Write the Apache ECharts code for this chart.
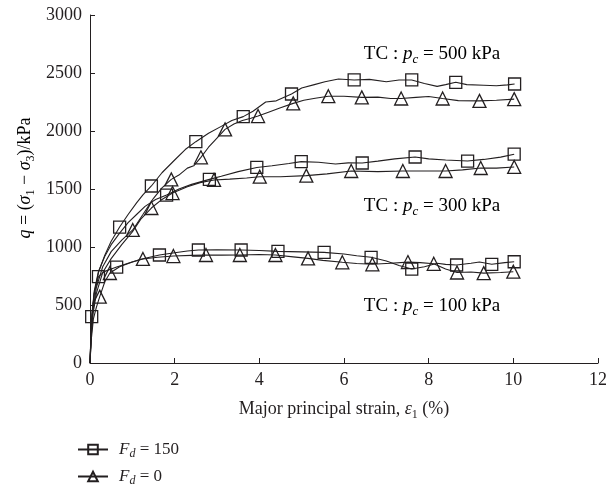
<!DOCTYPE html>
<html><head><meta charset="utf-8">
<script src="https://cdn.jsdelivr.net/npm/echarts@6/dist/echarts.min.js"></script>
<style>html,body{margin:0;padding:0;background:#fff}#c{width:610px;height:487px}</style>
</head><body><div id="c"></div>
<script>
// x ticks / y ticks
const xTicks = [0, 2, 4, 6, 8, 10, 12];
const yTicks = [0, 500, 1000, 1500, 2000, 2500, 3000];

// Curves: [strain %, q kPa]
const c500_150 = [[0,0],[0.02,200],[0.05,420],[0.1,600],[0.2,780],[0.35,930],[0.5,1050],[0.7,1172],[0.9,1280],[1.1,1380],[1.25,1450],[1.45,1526],[1.7,1640],[2.0,1750],[2.25,1840],[2.5,1908],[2.8,1980],[3.1,2040],[3.35,2090],[3.62,2124],[3.85,2170],[4.15,2250],[4.4,2260],[4.76,2319],[5.0,2370],[5.3,2400],[5.55,2425],[5.87,2448],[6.24,2440],[6.6,2445],[7.0,2425],[7.3,2440],[7.6,2440],[7.9,2410],[8.2,2385],[8.4,2400],[8.64,2420],[8.9,2400],[9.3,2395],[9.6,2390],[9.86,2398],[10.03,2405]];
const c500_0 = [[0,0],[0.03,250],[0.07,450],[0.15,650],[0.3,830],[0.5,960],[0.75,1060],[1.01,1147],[1.25,1280],[1.5,1420],[1.7,1510],[1.92,1583],[2.1,1620],[2.3,1680],[2.45,1700],[2.62,1773],[2.8,1860],[2.95,1920],[3.19,2014],[3.4,2060],[3.6,2090],[3.8,2110],[3.97,2129],[4.2,2160],[4.5,2200],[4.8,2238],[5.05,2265],[5.32,2282],[5.63,2300],[6.0,2300],[6.42,2290],[6.8,2292],[7.1,2280],[7.35,2280],[7.7,2290],[8.0,2298],[8.33,2280],[8.7,2262],[9.2,2260],[9.6,2265],[10.02,2275]];
const c300_150 = [[0,0],[0.02,220],[0.04,399],[0.1,620],[0.2,790],[0.35,920],[0.5,1020],[0.7,1120],[0.9,1210],[1.1,1280],[1.3,1350],[1.55,1410],[1.81,1448],[2.1,1500],[2.4,1540],[2.82,1583],[3.1,1610],[3.5,1650],[3.94,1686],[4.3,1700],[4.7,1720],[4.99,1736],[5.4,1730],[5.8,1715],[6.1,1725],[6.43,1724],[6.8,1740],[7.2,1760],[7.68,1776],[8.0,1760],[8.4,1750],[8.92,1741],[9.3,1755],[9.7,1775],[10.02,1800]];
const c300_0 = [[0,0],[0.03,230],[0.07,420],[0.15,600],[0.3,780],[0.5,900],[0.75,1020],[1.0,1130],[1.2,1240],[1.45,1336],[1.7,1410],[1.95,1465],[2.3,1520],[2.6,1555],[2.93,1578],[3.3,1585],[3.7,1595],[4.01,1606],[4.5,1605],[5.11,1615],[5.6,1630],[6.17,1655],[6.8,1650],[7.39,1655],[7.9,1655],[8.4,1655],[8.8,1665],[9.23,1681],[9.6,1680],[10.02,1690]];
const c100_150 = [[0,0],[0.02,200],[0.05,420],[0.1,600],[0.2,744],[0.35,790],[0.5,810],[0.63,827],[0.9,860],[1.2,895],[1.64,931],[2.0,950],[2.3,965],[2.56,974],[3.0,975],[3.57,974],[4.0,970],[4.44,962],[5.0,958],[5.53,954],[6.0,940],[6.3,925],[6.64,911],[7.0,880],[7.3,840],[7.6,810],[7.9,830],[8.2,860],[8.4,850],[8.66,845],[9.0,860],[9.2,870],[9.49,851],[9.8,865],[10.02,873]];
const c100_0 = [[0,0],[0.03,200],[0.08,380],[0.15,480],[0.23,572],[0.35,700],[0.47,776],[0.7,830],[1.0,870],[1.25,897],[1.6,912],[1.97,922],[2.4,928],[2.74,931],[3.1,930],[3.54,931],[4.0,935],[4.38,931],[4.8,915],[5.15,902],[5.5,885],[5.96,868],[6.3,858],[6.67,851],[7.1,860],[7.51,870],[7.8,865],[8.12,855],[8.4,810],[8.67,780],[9.0,785],[9.3,775],[9.7,780],[10.0,787]];

// Marker positions
const m500_150 = [[0.7,1172],[1.45,1526],[2.5,1908],[3.62,2124],[4.76,2319],[6.24,2440],[7.6,2440],[8.64,2420],[10.03,2405]];
const m500_0 = [[1.01,1147],[1.92,1583],[2.62,1773],[3.19,2014],[3.97,2129],[4.8,2238],[5.63,2300],[6.42,2290],[7.35,2280],[8.33,2280],[9.2,2260],[10.02,2275]];
const m300_150 = [[0.04,399],[1.81,1448],[2.82,1583],[3.94,1686],[4.99,1736],[6.43,1724],[7.68,1776],[8.92,1741],[10.02,1800]];
const m300_0 = [[1.45,1336],[1.95,1465],[2.93,1578],[4.01,1606],[5.11,1615],[6.17,1655],[7.39,1655],[8.4,1655],[9.23,1681],[10.02,1690]];
const m100_150 = [[0.2,744],[0.63,827],[1.64,931],[2.56,974],[3.57,974],[4.44,962],[5.53,954],[6.64,911],[7.6,810],[8.66,845],[9.49,851],[10.02,873]];
const m100_0 = [[0.23,572],[0.47,776],[1.25,897],[1.97,922],[2.74,931],[3.54,931],[4.38,931],[5.15,902],[5.96,868],[6.67,851],[7.51,870],[8.12,855],[8.67,780],[9.3,775],[10.0,787]];

const FONT = 'Liberation Serif';
const INK = '#231f20';
function mkRich(sz, lh) {
  const sub = Math.round(sz * 0.68);
  return {
    n: {fontFamily: FONT, fontSize: sz, color: INK, lineHeight: lh},
    i: {fontFamily: FONT, fontSize: sz, fontStyle: 'italic', color: INK, lineHeight: lh},
    s: {fontFamily: FONT, fontSize: sub, color: INK, lineHeight: sub, verticalAlign: 'bottom'},
    si: {fontFamily: FONT, fontSize: sub, fontStyle: 'italic', color: INK, lineHeight: sub, verticalAlign: 'bottom'}
  };
}
const rich18 = mkRich(18, 23);
const rich19 = mkRich(19, 24);
const rich17 = mkRich(17, 21);

function lineSeries(name, data, sym) {
  return {
    type: 'line', name: name, data: data, showSymbol: false, symbol: sym, symbolSize: 10,
    lineStyle: {color: INK, width: 1.1}, itemStyle: {color: 'transparent', borderColor: INK, borderWidth: 1.2},
    silent: true, animation: false, z: 2
  };
}
function markSeries(name, data, sym, size) {
  return {
    type: 'scatter', name: name, data: data, symbol: sym, symbolSize: size,
    itemStyle: {color: 'transparent', borderColor: INK, borderWidth: 1.3, opacity: 1},
    silent: true, animation: false, z: 3
  };
}

const chart = echarts.init(document.getElementById('c'), null, {renderer: 'canvas'});
chart.setOption({
  backgroundColor: '#fff',
  animation: false,
  grid: {left: 90, right: 9, top: 15, bottom: 124},
  xAxis: {
    type: 'value', min: xTicks[0], max: xTicks[xTicks.length - 1], interval: 2,
    axisLine: {lineStyle: {color: INK, width: 1}},
    axisTick: {inside: true, length: 5, lineStyle: {color: INK}},
    axisLabel: {fontFamily: FONT, fontSize: 18, color: INK, margin: 8},
    splitLine: {show: false},
    name: '{n|Major principal strain, }{i|ε}{s|1}{n| (%)}',
    nameLocation: 'middle', nameGap: 35,
    nameTextStyle: {rich: rich18}
  },
  yAxis: {
    type: 'value', min: yTicks[0], max: yTicks[yTicks.length - 1], interval: 500,
    axisLine: {show: true, lineStyle: {color: INK, width: 1}},
    axisTick: {show: true, inside: true, length: 5, lineStyle: {color: INK}},
    axisLabel: {fontFamily: FONT, fontSize: 18, color: INK, margin: 8, formatter: function (v) { return String(v); }},
    splitLine: {show: false}
  },
  legend: {
    orient: 'vertical', left: 77, top: 441, itemWidth: 30, itemHeight: 12, itemGap: 8,
    padding: 0,
    data: ['Fd150', 'Fd0'],
    formatter: function (name) {
      return name === 'Fd150' ? '{i|F}{si|d}{n| = 150}' : '{i|F}{si|d}{n| = 0}';
    },
    textStyle: {rich: rich17, padding: [0, 0, 0, 6]},
    selectedMode: false
  },
  graphic: [
    {type: 'text', x: 25, y: 178, rotation: Math.PI / 2,
      style: {text: '{i|q}{n| = (}{i|σ}{s|1}{n| − }{i|σ}{s|3}{n|)/kPa}', rich: rich18, align: 'center', verticalAlign: 'middle'}},
    {type: 'text', x: 432, y: 54,
      style: {text: '{n|TC : }{i|p}{si|c}{n| = 500 kPa}', rich: rich19, align: 'center', verticalAlign: 'middle'}},
    {type: 'text', x: 432, y: 206,
      style: {text: '{n|TC : }{i|p}{si|c}{n| = 300 kPa}', rich: rich19, align: 'center', verticalAlign: 'middle'}},
    {type: 'text', x: 432, y: 306,
      style: {text: '{n|TC : }{i|p}{si|c}{n| = 100 kPa}', rich: rich19, align: 'center', verticalAlign: 'middle'}}
  ],
  series: [
    lineSeries('Fd150', c500_150, 'rect'),
    lineSeries('Fd0', c500_0, 'triangle'),
    lineSeries('Fd150', c300_150, 'rect'),
    lineSeries('Fd0', c300_0, 'triangle'),
    lineSeries('Fd150', c100_150, 'rect'),
    lineSeries('Fd0', c100_0, 'triangle'),
    markSeries('m150a', m500_150, 'rect', 12),
    markSeries('m0a', m500_0, 'triangle', 13),
    markSeries('m150b', m300_150, 'rect', 12),
    markSeries('m0b', m300_0, 'triangle', 13),
    markSeries('m150c', m100_150, 'rect', 12),
    markSeries('m0c', m100_0, 'triangle', 13)
  ]
});
</script>
</body></html>
